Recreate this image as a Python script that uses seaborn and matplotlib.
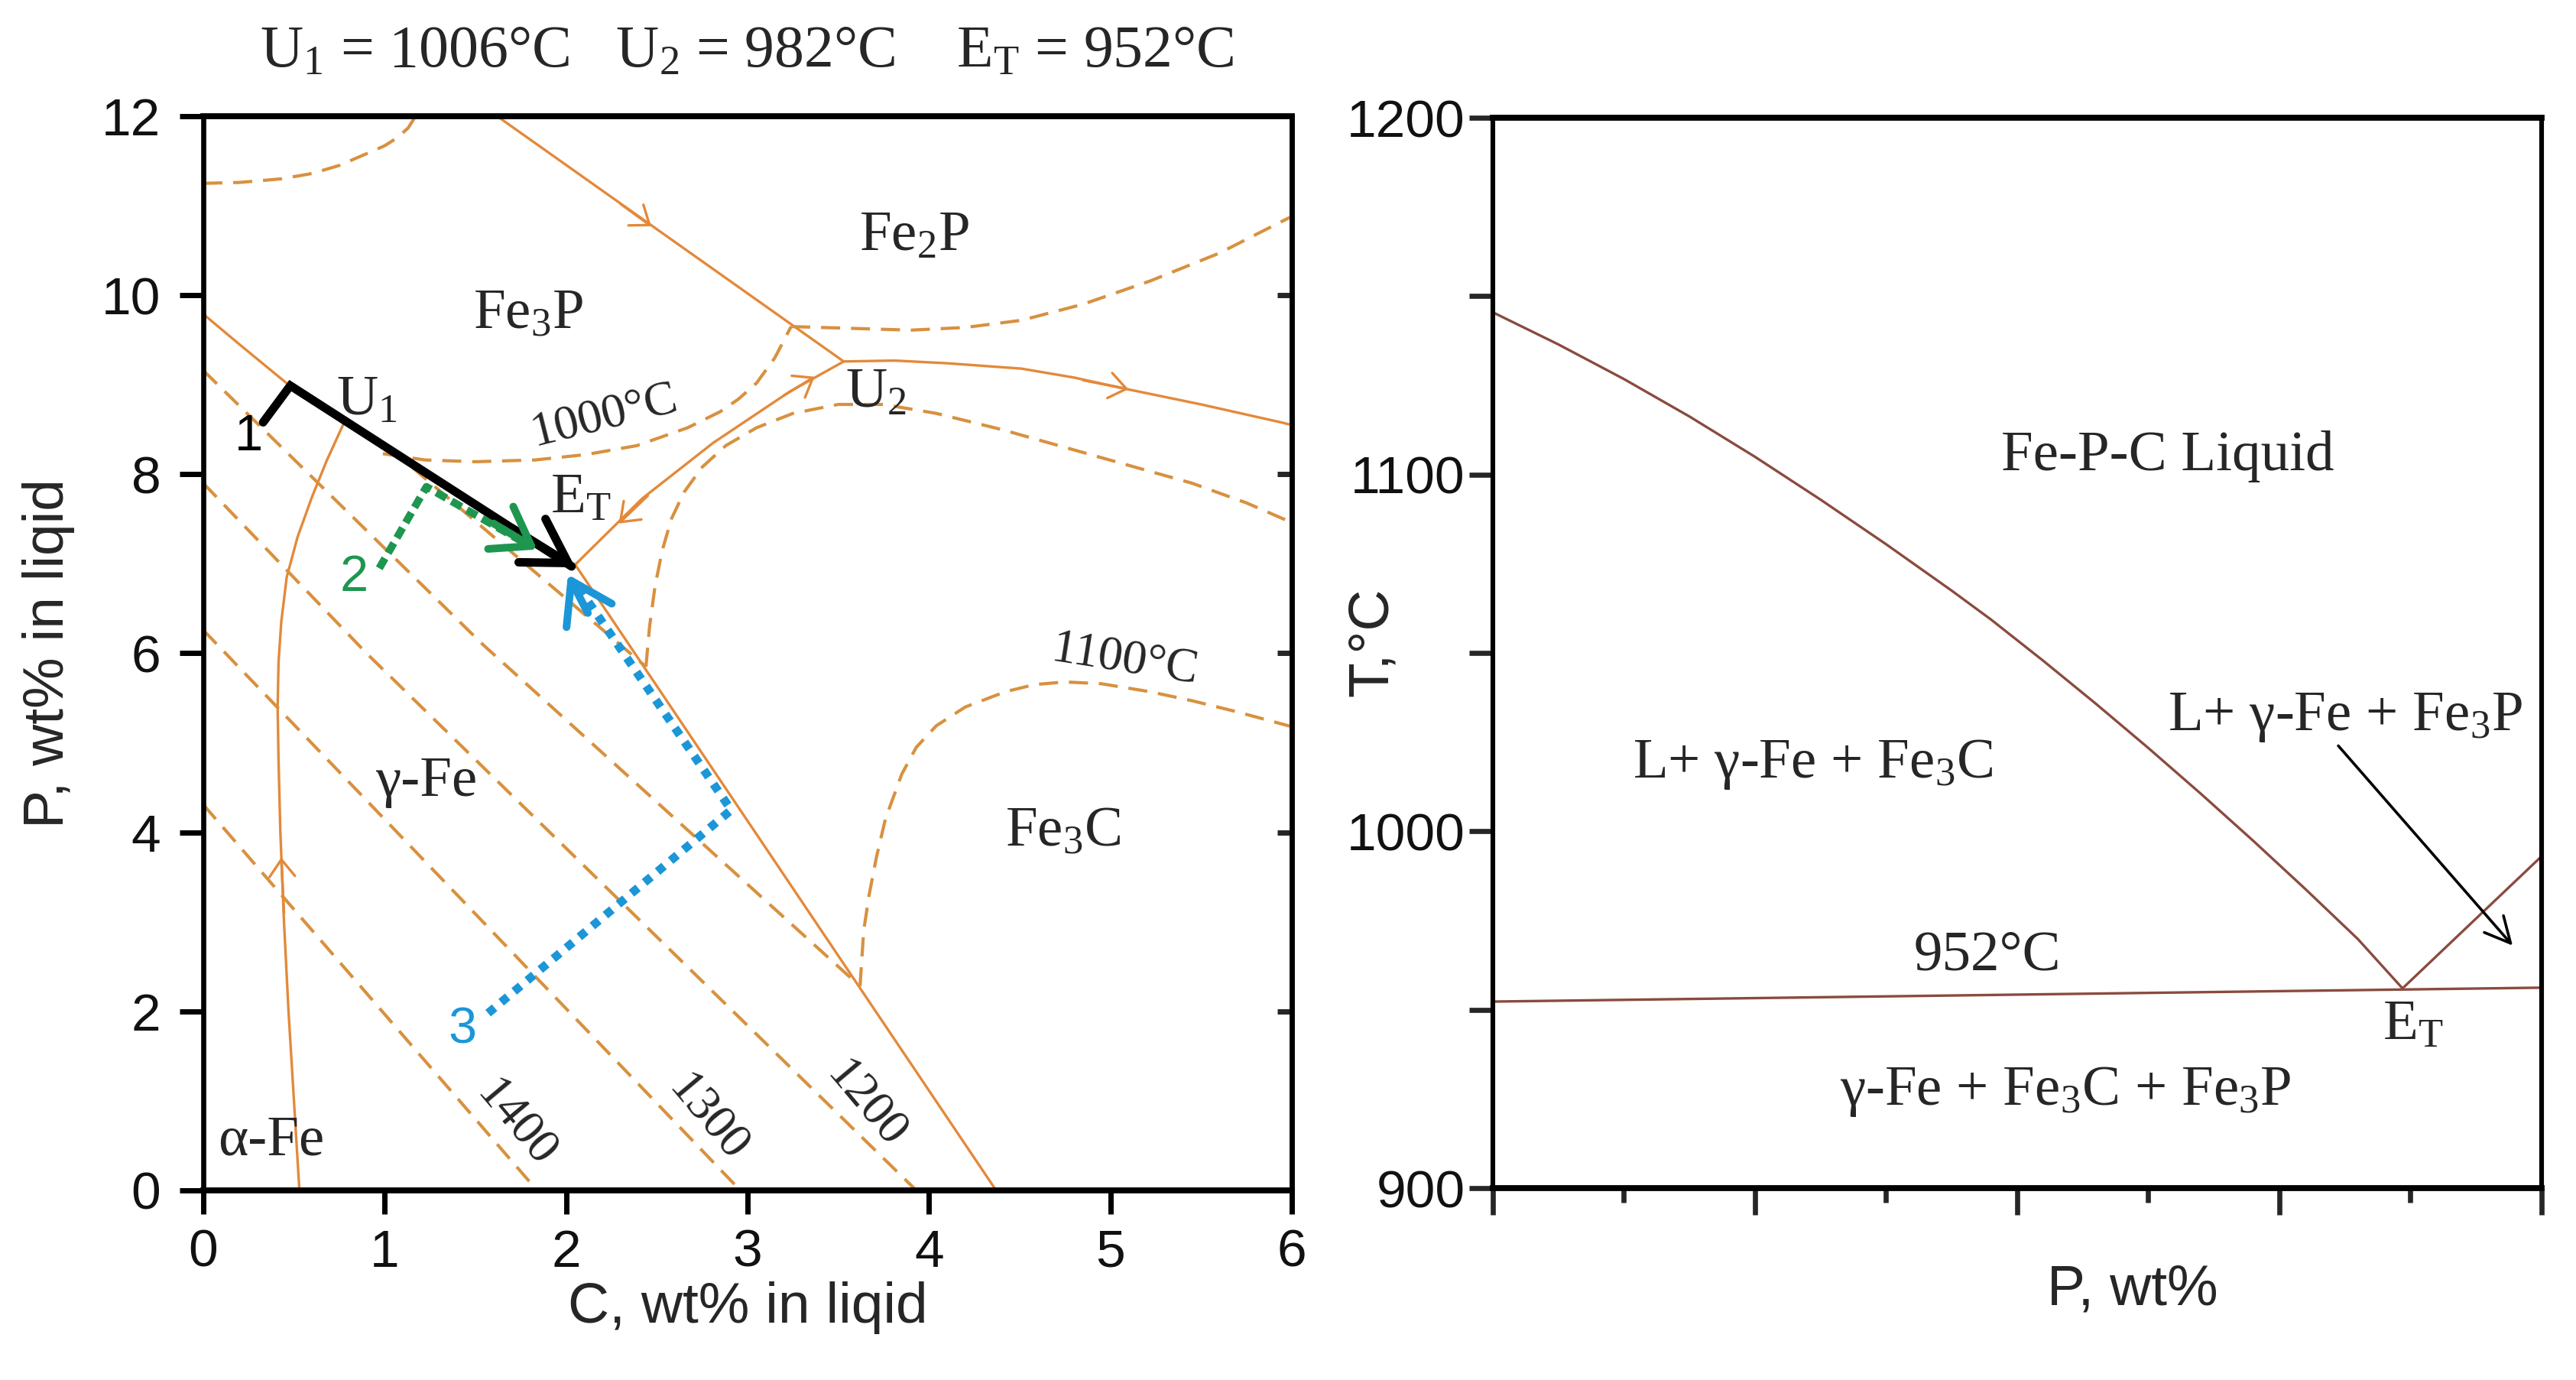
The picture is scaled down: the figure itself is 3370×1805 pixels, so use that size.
import matplotlib
matplotlib.use("Agg")
import matplotlib.pyplot as plt
import seaborn as sns

# ---- left panel: liquidus projection, C wt% (x) vs P wt% (y) ----
fe3p_gamma_c = [0.0, 0.2, 0.47, 1.25, 2.05]
fe3p_gamma_p = [9.79, 9.45, 9.0, 7.98, 6.99]
alpha_gamma_c = [0.53, 0.50, 0.47, 0.445, 0.425, 0.415, 0.41, 0.415, 0.43, 0.46, 0.52, 0.60, 0.68, 0.77]
alpha_gamma_p = [0.0, 1.0, 2.0, 3.0, 4.0, 4.8, 5.4, 5.9, 6.35, 6.85, 7.3, 7.75, 8.15, 8.55]
fe2p_fe3p_c = [1.62, 3.53]
fe2p_fe3p_p = [12.0, 9.26]
u2_right_c = [3.53, 3.81, 4.1, 4.51, 4.8, 5.07, 5.5, 5.94, 6.0]
u2_right_p = [9.26, 9.27, 9.24, 9.18, 9.08, 8.96, 8.78, 8.58, 8.55]
et_u2_c = [2.05, 2.42, 2.81, 3.23, 3.53]
et_u2_p = [6.99, 7.73, 8.35, 8.92, 9.26]
gamma_fe3c_c = [2.05, 4.37]
gamma_fe3c_p = [6.99, 0.0]

# isotherms (dashed)
iso_topleft_c = [0.0, 0.2, 0.43, 0.6, 0.75, 0.91, 1.0, 1.07, 1.13, 1.17]
iso_topleft_p = [11.25, 11.26, 11.3, 11.36, 11.45, 11.59, 11.67, 11.76, 11.87, 12.0]
iso_fe2p_c = [3.24, 3.57, 3.90, 4.2, 4.51, 4.85, 5.22, 5.6, 5.94, 6.0]
iso_fe2p_p = [9.65, 9.63, 9.61, 9.64, 9.72, 9.9, 10.16, 10.47, 10.82, 10.88]
iso_1000_c = [0.99, 1.22, 1.5, 1.83, 2.11, 2.39, 2.67, 2.85, 2.95, 3.05, 3.15, 3.24]
iso_1000_p = [8.23, 8.16, 8.14, 8.16, 8.22, 8.32, 8.52, 8.70, 8.84, 9.02, 9.30, 9.65]
iso_u2low_c = [2.44, 2.46, 2.49, 2.53, 2.58, 2.65, 2.75, 2.88, 3.05, 3.25, 3.5, 3.75,
               4.04, 4.4, 4.75, 5.1, 5.45, 5.75, 6.0]
iso_u2low_p = [5.85, 6.3, 6.75, 7.15, 7.5, 7.8, 8.08, 8.32, 8.52, 8.68, 8.78, 8.78,
               8.68, 8.5, 8.3, 8.1, 7.9, 7.68, 7.46]
iso_1100_c = [3.62, 3.64, 3.67, 3.71, 3.76, 3.85, 3.93, 4.04, 4.2, 4.42, 4.58, 4.75,
              4.95, 5.22, 5.45, 5.69, 6.0]
iso_1100_p = [2.28, 2.9, 3.3, 3.72, 4.15, 4.65, 4.95, 5.19, 5.4, 5.57, 5.65, 5.68,
              5.66, 5.57, 5.47, 5.35, 5.18]
iso_gamma_mid_c = [1.15, 2.44]
iso_gamma_mid_p = [8.08, 5.85]
iso_gamma_top_c = [0.0, 1.54, 3.62]
iso_gamma_top_p = [9.16, 6.1, 2.28]
iso_1200_c = [0.0, 0.9, 3.93]
iso_1200_p = [7.9, 6.0, 0.0]
iso_1300_c = [0.0, 2.96]
iso_1300_p = [6.26, 0.0]
iso_1400_c = [0.0, 1.84]
iso_1400_p = [4.31, 0.0]

# crystallisation paths 1, 2, 3
path1_c = [0.33, 0.48, 2.03]
path1_p = [8.58, 8.99, 6.97]
path2_c = [0.97, 1.23, 1.80]
path2_p = [6.95, 7.86, 7.20]
path3_c = [1.57, 2.91, 2.08]
path3_p = [1.98, 4.25, 6.70]

# ---- right panel: vertical section, P wt% (x, unlabelled) vs T ----
liq_fe3c_x = [0.0, 0.5, 1.0, 1.5, 2.0, 2.5, 3.0, 3.5, 3.8, 4.2, 4.6, 5.0, 5.4,
              5.8, 6.2, 6.6, 6.94]
liq_fe3c_t = [1145.5, 1136.5, 1126.8, 1116.3, 1105.0, 1093.0, 1080.5, 1067.5, 1059.4,
              1047.8, 1035.8, 1023.4, 1010.6, 997.4, 983.8, 969.8, 956.0]
liq_fe3p_x = [6.94, 8.0]
liq_fe3p_t = [956.0, 993.0]
eutectic_x = [0.0, 8.0]
eutectic_t = [952.3, 956.2]

sns.set_style("ticks")
plt.rcParams["font.family"] = ["Liberation Sans", "DejaVu Sans"]
plt.rcParams["mathtext.fontset"] = "custom"
plt.rcParams["mathtext.rm"] = "Liberation Serif"
plt.rcParams["mathtext.it"] = "Liberation Serif:italic"
plt.rcParams["mathtext.bf"] = "Liberation Serif:bold"

SERIF = ["Liberation Serif", "DejaVu Serif"]
ORANGE = "#e3893a"
ORANGE_D = "#d8913f"
BROWN = "#8a4b3e"
GREEN = "#1e9650"
BLUE = "#1b96d8"
DASH = (0, (6.0, 3.4))


def curve(ax, xs, ys, color, lw, ls="-", z=2, **kw):
    sns.lineplot(x=xs, y=ys, ax=ax, color=color, linewidth=lw, linestyle=ls,
                 sort=False, estimator=None, zorder=z, legend=False, **kw)


def arrow(ax, tail, tip, color, lw, ms, hl, hw, z=3):
    ax.annotate("", xy=tip, xytext=tail, zorder=z,
                arrowprops=dict(arrowstyle=f"->,head_length={hl},head_width={hw}",
                                color=color, lw=lw, mutation_scale=ms,
                                shrinkA=0, shrinkB=0))


fig = plt.figure(figsize=(16.85, 9.025), dpi=200)
ax1 = fig.add_axes([0.0789, 0.1374, 0.4226, 0.7784])
ax2 = fig.add_axes([0.5795, 0.139, 0.4071, 0.7756])

# ---------------- left panel ----------------
for c, p in [(fe3p_gamma_c, fe3p_gamma_p), (alpha_gamma_c, alpha_gamma_p),
             (fe2p_fe3p_c, fe2p_fe3p_p), (u2_right_c, u2_right_p),
             (et_u2_c, et_u2_p), (gamma_fe3c_c, gamma_fe3c_p)]:
    curve(ax1, c, p, ORANGE, 1.2)

for c, p in [(iso_topleft_c, iso_topleft_p), (iso_fe2p_c, iso_fe2p_p),
             (iso_1000_c, iso_1000_p), (iso_u2low_c, iso_u2low_p),
             (iso_1100_c, iso_1100_p), (iso_gamma_mid_c, iso_gamma_mid_p),
             (iso_gamma_top_c, iso_gamma_top_p), (iso_1200_c, iso_1200_p),
             (iso_1300_c, iso_1300_p), (iso_1400_c, iso_1400_p)]:
    curve(ax1, c, p, ORANGE_D, 1.5, ls=DASH)

# small direction arrows on the univariant lines
arrow(ax1, (2.30, 11.02), (2.47, 10.77), ORANGE, 1.2, 20, 0.4, 0.3)
arrow(ax1, (4.85, 9.05), (5.10, 8.95), ORANGE, 1.2, 20, 0.4, 0.3)
arrow(ax1, (3.20, 8.88), (3.37, 9.09), ORANGE, 1.2, 20, 0.4, 0.3)
arrow(ax1, (2.45, 7.76), (2.29, 7.45), ORANGE, 1.2, 20, 0.4, 0.3)
arrow(ax1, (0.445, 3.1), (0.43, 3.72), ORANGE, 1.2, 20, 0.4, 0.3)

# crystallisation paths
curve(ax1, path1_c, path1_p, "black", 4.0, z=5, solid_joinstyle="miter")
arrow(ax1, (1.7, 7.4), (2.05, 6.96), "black", 4.0, 40, 0.5, 0.3, z=6)
curve(ax1, path2_c, path2_p, GREEN, 3.6, ls=(0, (1.5, 0.8)), z=7)
arrow(ax1, (1.6, 7.45), (1.84, 7.16), GREEN, 3.6, 40, 0.42, 0.29, z=7)
curve(ax1, path3_c, path3_p, BLUE, 4.0, ls=(0, (1.0, 1.0)), z=7,
      dash_capstyle="butt")
arrow(ax1, (2.12, 6.45), (2.01, 6.88), BLUE, 3.6, 40, 0.46, 0.3, z=7)

ax1.text(0.25, 8.41, "1", fontsize=24, color="black", ha="center", va="center")
ax1.text(0.83, 6.84, "2", fontsize=24, color=GREEN, ha="center", va="center")
ax1.text(1.43, 1.79, "3", fontsize=24, color=BLUE, ha="center", va="center")

region_labels = [("Fe$_3$P", 1.79, 9.78), ("Fe$_2$P", 3.92, 10.65),
                 ("Fe$_3$C", 4.74, 4.0), ("\u03b3-Fe", 1.23, 4.56),
                 ("\u03b1-Fe", 0.375, 0.55), ("U$_1$", 0.90, 8.81),
                 ("U$_2$", 3.71, 8.90), ("E$_\\mathrm{T}$", 2.08, 7.72)]
for txt, x, y in region_labels:
    ax1.text(x, y, txt, fontsize=27, family=SERIF, ha="center", va="center")

ax1.text(2.21, 8.65, "1000\u00b0C", fontsize=23, family=SERIF, rotation=14,
         ha="center", va="center")
ax1.text(5.08, 5.92, "1100\u00b0C", fontsize=23, family=SERIF, rotation=-9,
         ha="center", va="center")
for txt, x, y in [("1400", 1.72, 0.74), ("1300", 2.78, 0.80), ("1200", 3.65, 0.96)]:
    ax1.text(x, y, txt, fontsize=23, family=SERIF, rotation=-50,
             ha="center", va="center")

ax1.set_xlim(0, 6)
ax1.set_ylim(0, 12)
ax1.set_xticks(range(0, 7))
ax1.set_yticks(range(0, 13, 2))
ax1.tick_params(direction="out", length=11, width=2.5, labelsize=25, pad=7,
                color="black", labelcolor="#111111")
ax1.tick_params(axis="y", pad=9)
for s in ax1.spines.values():
    s.set_visible(True)
    s.set_color("black")
    s.set_linewidth(2.4)
ax1.spines["top"].set_linewidth(2.8)
ax1.spines["bottom"].set_linewidth(2.8)
sec = ax1.secondary_yaxis("right")
sec.set_yticks([2, 4, 6, 8, 10])
sec.tick_params(direction="in", length=7, width=2.5, labelright=False)
sec.spines["right"].set_linewidth(2.4)
ax1.set_xlabel("C, wt% in liqid", fontsize=27)
ax1.set_ylabel("P, wt% in liqid", fontsize=27)
ax1.xaxis.set_label_coords(0.5, -0.085)
ax1.yaxis.set_label_coords(-0.118, 0.5)

# ---------------- right panel ----------------
curve(ax2, liq_fe3c_x, liq_fe3c_t, BROWN, 1.2)
curve(ax2, liq_fe3p_x, liq_fe3p_t, BROWN, 1.2)
curve(ax2, eutectic_x, eutectic_t, BROWN, 1.2)
arrow(ax2, (6.45, 1024), (7.78, 968), "black", 1.3, 20, 0.6, 0.3)

right_labels = [("Fe-P-C Liquid", 5.15, 1105), ("L+ \u03b3-Fe + Fe$_3$C", 2.44, 1018.8),
                ("L+ \u03b3-Fe + Fe$_3$P", 6.5, 1032), ("952\u00b0C", 3.77, 965),
                ("E$_\\mathrm{T}$", 7.02, 945.5), ("\u03b3-Fe + Fe$_3$C + Fe$_3$P", 4.37, 927)]
for txt, x, y in right_labels:
    ax2.text(x, y, txt, fontsize=27, family=SERIF, ha="center", va="center")

ax2.set_xlim(0, 8)
ax2.set_ylim(900, 1200)
ax2.set_xticks(range(0, 9, 2))
ax2.set_xticks(range(1, 9, 2), minor=True)
ax2.set_yticks([900, 1000, 1100, 1200])
ax2.set_yticks([950, 1050, 1150], minor=True)
ax2.tick_params(axis="x", which="major", direction="out", length=12.5, width=2.4,
                labelbottom=False)
ax2.tick_params(axis="x", which="minor", direction="out", length=7, width=2.4)
ax2.tick_params(axis="y", which="both", direction="out", length=11, width=2.4,
                labelsize=25, pad=2, labelcolor="#111111")
for s in ax2.spines.values():
    s.set_visible(True)
    s.set_color("black")
    s.set_linewidth(2.2)
ax2.spines["top"].set_linewidth(2.8)
ax2.spines["bottom"].set_linewidth(2.8)
ax2.set_xlabel("P, wt%", fontsize=27)
ax2.set_ylabel("T,\u00b0C", fontsize=27)
ax2.xaxis.set_label_coords(0.61, -0.07)
ax2.yaxis.set_label_coords(-0.09, 0.51)

fig.text(0.29, 0.962, "U$_1$ = 1006\u00b0C   U$_2$ = 982\u00b0C    E$_\\mathrm{T}$ = 952\u00b0C",
         fontsize=28, family=SERIF, ha="center", va="center")

fig.savefig("out.png", dpi=200, facecolor="white")
